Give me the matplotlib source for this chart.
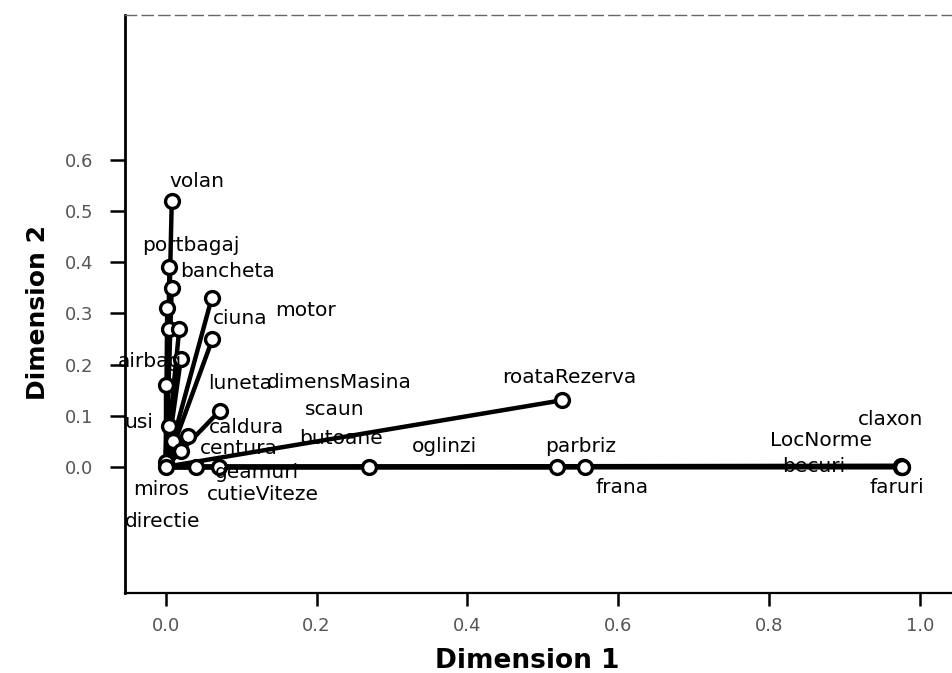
import matplotlib
matplotlib.use("Agg")
import matplotlib.pyplot as plt

# discrimination measures per variable (Dimension 1, Dimension 2)
variabile = ["volan", "portbagaj", "bancheta", "motor", "ciuna", "", "",
             "dimensMasina", "airbag", "luneta", "scaun", "usi", "butoane",
             "caldura", "centura", "miros", "directie", "cutieViteze",
             "geamuri", "oglinzi", "parbriz", "frana", "roataRezerva",
             "becuri", "LocNorme", "claxon", "faruri"]
dim1 = [0.008, 0.005, 0.008, 0.061, 0.062, 0.002, 0.005,
        0.018, 0.020, 0.000, 0.072, 0.005, 0.030,
        0.010, 0.020, 0.000, 0.000, 0.040,
        0.070, 0.270, 0.519, 0.556, 0.525,
        0.975, 0.975, 0.976, 0.976]
dim2 = [0.520, 0.390, 0.350, 0.330, 0.250, 0.310, 0.270,
        0.270, 0.210, 0.160, 0.110, 0.080, 0.060,
        0.050, 0.030, 0.010, 0.000, 0.000,
        0.000, 0.000, 0.000, 0.000, 0.130,
        0.000, 0.002, 0.000, 0.000]

# where each name sits relative to its point (pixels)
eticheta_dx = [-2, -27, 8, 63, 0, 0, 0,
               88, -63, 42, 85, -45, 111,
               36, 19, -33, -41, 11,
               -4, 43, -12, 10, -59,
               -119, -131, -44, -32]
eticheta_dy = [20, 22, 16, -12, 21, 0, 0,
               -54, -2, 2, 1, 3, -2,
               14, 3, -28, -55, -28,
               -6, 20, 20, -21, 23,
               0, 25, 47, -21]

fig = plt.figure(figsize=(9.53, 6.73), dpi=100)
ax = fig.add_axes([125 / 953, 80 / 673, 828 / 953, 578 / 673])

for x, y in zip(dim1, dim2):
    ax.plot([0, x], [0, y], color="black", lw=3.2, zorder=2, solid_capstyle="round")
ax.plot(dim1, dim2, ls="none", marker="o", ms=10, mfc="white", mec="black",
        mew=2.4, zorder=3)

for nume, x, y, dx, dy in zip(variabile, dim1, dim2, eticheta_dx, eticheta_dy):
    if not nume:
        continue
    ax.annotate(nume, (x, y), xytext=(dx, dy), textcoords="offset pixels",
                ha="left", va="center", fontsize=14.5, color="black",
                annotation_clip=False, zorder=4)

ax.set_xlim(-0.054, 1.044)
ax.set_ylim(-0.247, 0.884)
ax.set_xticks([0.0, 0.2, 0.4, 0.6, 0.8, 1.0])
ax.set_yticks([0.0, 0.1, 0.2, 0.3, 0.4, 0.5, 0.6])
ax.set_xticklabels(["0.0", "0.2", "0.4", "0.6", "0.8", "1.0"])
ax.set_yticklabels(["0.0", "0.1", "0.2", "0.3", "0.4", "0.5", "0.6"])
ax.tick_params(axis="both", direction="out", width=1.8, color="black",
               labelsize=13, labelcolor="#555555")
ax.tick_params(axis="x", length=9, pad=8)
ax.tick_params(axis="y", length=11, pad=12)

ax.spines["right"].set_visible(False)
ax.spines["left"].set_linewidth(2)
ax.spines["bottom"].set_linewidth(1.6)
ax.spines["top"].set_linestyle((0, (8, 4)))
ax.spines["top"].set_linewidth(1)
ax.spines["top"].set_color("#666666")

fig.text(527 / 953, 1 - 661 / 673, "Dimension 1", ha="center", va="center",
         fontsize=19, fontweight="bold")
fig.text(38 / 953, 1 - 312 / 673, "Dimension 2", ha="center", va="center",
         rotation=90, fontsize=18, fontweight="bold")

fig.savefig("out.png", dpi=100)
